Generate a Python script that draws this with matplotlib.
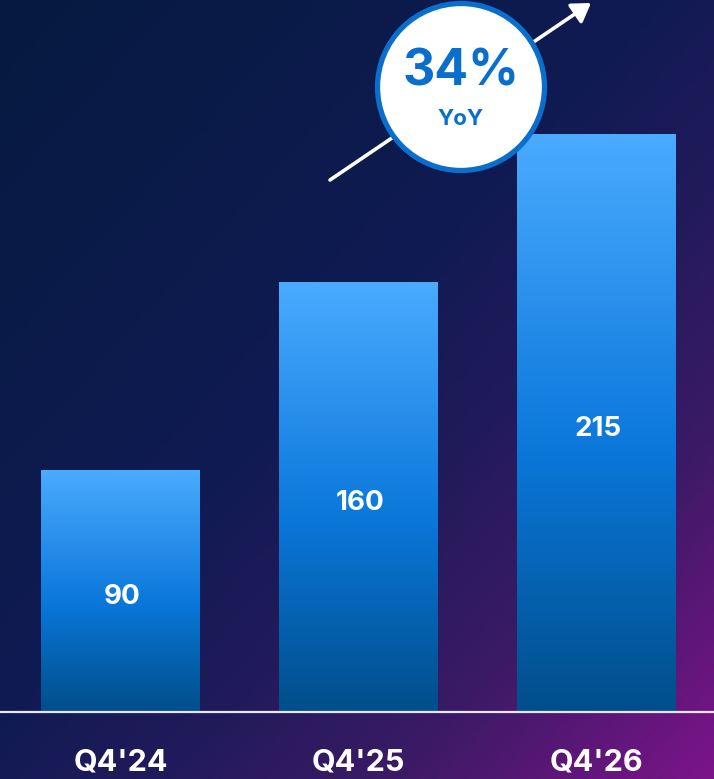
import numpy as np
import matplotlib
matplotlib.use("Agg")
import matplotlib.pyplot as plt
from matplotlib.colors import LinearSegmentedColormap
from matplotlib.patches import Circle, FancyArrowPatch

categories = ["Q4'24", "Q4'25", "Q4'26"]
values = [90, 160, 215]
growth_label = "34%"
growth_sub = "YoY"

W, H, DPI = 714, 779, 100
FONT = "Inter"

fig = plt.figure(figsize=(W / DPI, H / DPI), dpi=DPI)

# background gradient
bg = fig.add_axes([0, 0, 1, 1], zorder=0)
bg.set_axis_off()
xx, yy = np.meshgrid(np.linspace(0, 1, 300), np.linspace(0, 1, 330))
s = (xx + yy) / 2
bg_cmap = LinearSegmentedColormap.from_list(
    "bg", [(0.0, "#061A40"), (0.45, "#0F1B52"), (0.62, "#221A5B"),
           (0.78, "#3C1A66"), (1.0, "#7C1489")])
bg.imshow(s, cmap=bg_cmap, aspect="auto", extent=[0, 1, 1, 0], vmin=0, vmax=1)
bg.set_xlim(0, 1)
bg.set_ylim(1, 0)

# main axes
ax = fig.add_axes([0, 0, 1, 1], zorder=1)
ax.patch.set_alpha(0)
ax.set_axis_off()
unit_x = 238.0
px_per_val = 2.685
base_px = 712.0
ax.set_xlim(-120.5 / unit_x, 2 + (W - 596.5) / unit_x)
ax.set_ylim(-(H - base_px) / px_per_val, base_px / px_per_val)

bar_cmap = LinearSegmentedColormap.from_list(
    "bar", [(0.0, "#4AABFF"), (0.55, "#0A77DA"), (1.0, "#014E8A")])
bw = 159 / unit_x
grad = np.linspace(0, 1, 256).reshape(-1, 1)
x = np.arange(len(categories))
for xi, v, c in zip(x, values, categories):
    ax.imshow(grad, cmap=bar_cmap, aspect="auto",
              extent=[xi - bw / 2, xi + bw / 2, 0, v], origin="upper", zorder=2)
    ax.annotate(str(v), (xi, v / 2), xytext=(2, -6), textcoords="offset pixels",
                ha="center", va="center", color="white",
                fontsize=20, fontweight="bold", family=FONT, zorder=3)
    ax.text(xi, -(763 - base_px) / px_per_val, c, ha="center", va="center",
            color="white", fontsize=22, fontweight="bold", family=FONT, zorder=3)

ax.axhline(0, color="#E6E6F2", lw=1.6, zorder=4)
ax.set_xlim(-120.5 / unit_x, 2 + (W - 596.5) / unit_x)

# arrow + circle (in inches)
tr = fig.dpi_scale_trans
def P(px, py):
    return (px / DPI, (H - py) / DPI)

arr = FancyArrowPatch(P(330, 180), P(591, 3), transform=tr,
                      arrowstyle="-|>,head_length=5,head_width=3.2",
                      color="white", lw=2.6, zorder=5, mutation_scale=2.2,
                      shrinkA=0, shrinkB=0)
fig.add_artist(arr)
circ = Circle(P(461, 87), 83.5 / DPI, transform=tr, facecolor="white",
              edgecolor="#0A6FCC", lw=3.8, zorder=6)
fig.add_artist(circ)
fig.text(*P(461, 72), growth_label, transform=tr, ha="center", va="center",
         color="#0A6FCC", fontsize=36, fontweight="bold", family=FONT, zorder=7)
fig.text(*P(461, 119), growth_sub, transform=tr, ha="center", va="center",
         color="#0A6FCC", fontsize=16, fontweight="bold", family=FONT, zorder=7)

fig.savefig("out.png", dpi=DPI)
